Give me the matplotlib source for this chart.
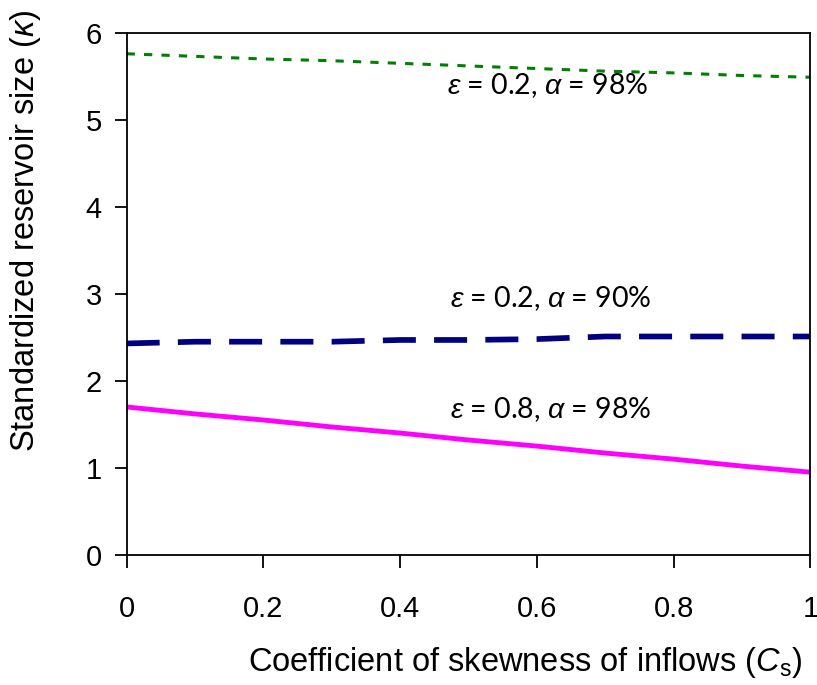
from matplotlib import pyplot as plt

plt.rcParams['font.family'] = 'Liberation Sans'
plt.rcParams['mathtext.fontset'] = 'custom'
plt.rcParams['mathtext.rm'] = 'Liberation Sans'
plt.rcParams['mathtext.it'] = 'Liberation Sans:italic'

# coefficient of skewness
cs = [0, 0.1, 0.2, 0.3, 0.4, 0.5, 0.6, 0.7, 0.8, 0.9, 1.0]

# standardized reservoir size for each case
k_02_98 = [5.76, 5.73, 5.70, 5.68, 5.65, 5.62, 5.59, 5.56, 5.54, 5.51, 5.49]
k_02_90 = [2.43, 2.45, 2.45, 2.45, 2.47, 2.47, 2.48, 2.51, 2.51, 2.51, 2.51]
k_08_98 = [1.70, 1.62, 1.55, 1.47, 1.40, 1.32, 1.25, 1.17, 1.10, 1.02, 0.95]

labels = [r'$\varepsilon$ = 0.2, $\alpha$ = 98%',
          r'$\varepsilon$ = 0.2, $\alpha$ = 90%',
          r'$\varepsilon$ = 0.8, $\alpha$ = 98%']
label_x = [0.616, 0.62, 0.62]
label_y = [5.40, 2.95, 1.67]

fig = plt.figure(figsize=(8.17, 6.85), dpi=100)
ax = fig.add_axes([0.155, 0.19, 0.837, 0.762])

ax.plot(cs, k_02_98, color='#008000', linewidth=2.2, linestyle=(0, (2.7, 3)))
ax.plot(cs, k_02_90, color='#000080', linewidth=4.1, linestyle=(0, (5.8, 3.2)),
        dash_capstyle='butt')
ax.plot(cs, k_08_98, color='#FF00FF', linewidth=3.5)

for txt, x, y in zip(labels, label_x, label_y):
    ax.text(x, y, txt, ha='center', va='center', fontsize=20.5, family='Lato')

ax.set_xlim(0, 1)
ax.set_ylim(0, 6)
ax.set_xticks([0, 0.2, 0.4, 0.6, 0.8, 1])
ax.set_xticklabels(['0', '0.2', '0.4', '0.6', '0.8', '1'])
ax.set_yticks([0, 1, 2, 3, 4, 5, 6])

ax.tick_params(axis='x', direction='out', length=9, width=1.3, pad=20, labelsize=21)
ax.tick_params(axis='y', direction='out', length=9, width=1.3, pad=9, labelsize=21)
for s in ax.spines.values():
    s.set_linewidth(1.3)

ax.set_xlabel(r'Coefficient of skewness of inflows ($C_\mathrm{s}$)', fontsize=23.5)
ax.set_ylabel(r'Standardized reservoir size ($\kappa$)', fontsize=23.5)
ax.xaxis.set_label_coords(0.583, -0.172)
ax.yaxis.set_label_coords(-0.122, 0.62)

plt.savefig('out.png', dpi=100)
